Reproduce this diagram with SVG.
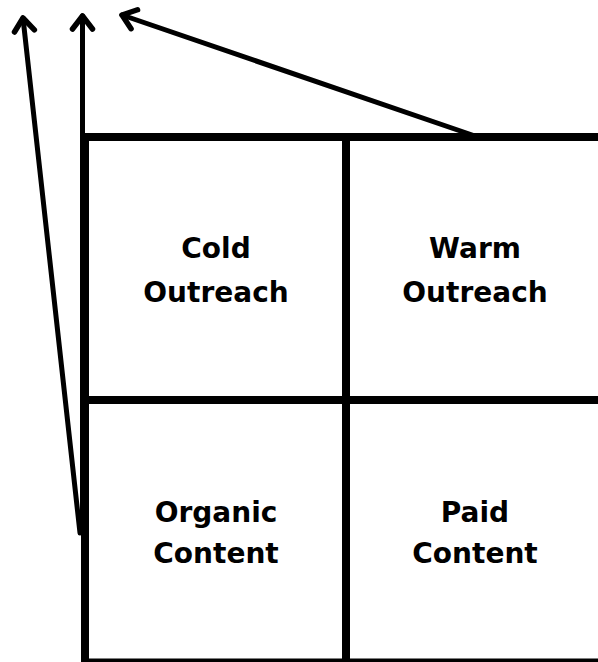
<svg xmlns="http://www.w3.org/2000/svg" width="598" height="662" viewBox="0 0 598 662">
<style>
.grid{stroke:#000;stroke-width:8;fill:none}
.arr{stroke:#000;stroke-width:5;fill:none;stroke-linecap:round}
.lbl{font-family:"DejaVu Sans",sans-serif;font-weight:bold;font-size:28px;fill:#000;text-anchor:middle}
</style>
<defs>
<marker id="ah" markerUnits="userSpaceOnUse" markerWidth="30" markerHeight="30" refX="0" refY="0" viewBox="-15 -15 30 30" orient="auto" overflow="visible">
<path d="M-13,-10 L0,0 L-13,10" fill="none" stroke="#000" stroke-width="5.5" stroke-linecap="round" stroke-linejoin="round"/>
</marker>
</defs>
<rect width="598" height="662" fill="#fff"/>
<g id="connectors">
<line class="arr" x1="80" y1="533" x2="23" y2="18" marker-end="url(#ah)"/>
<line class="arr" x1="82.5" y1="533" x2="82.5" y2="16" marker-end="url(#ah)"/>
<line class="arr" x1="478" y1="137" x2="122" y2="15" marker-end="url(#ah)"/>
</g>
<g id="grid">
<line class="grid" x1="82" y1="137" x2="598" y2="137"/>
<line class="grid" x1="85" y1="133" x2="85" y2="662"/>
<line class="grid" x1="346" y1="133" x2="346" y2="662"/>
<line class="grid" x1="85" y1="400" x2="598" y2="400"/>
<line class="grid" x1="85" y1="661" x2="598" y2="661" style="stroke-width:5"/>
</g>
<g id="cold-outreach">
<text class="lbl" x="216" y="258">Cold</text>
<text class="lbl" x="216" y="302">Outreach</text>
</g>
<g id="warm-outreach">
<text class="lbl" x="475" y="258">Warm</text>
<text class="lbl" x="475" y="302">Outreach</text>
</g>
<g id="organic-content">
<text class="lbl" x="216" y="522">Organic</text>
<text class="lbl" x="216" y="563">Content</text>
</g>
<g id="paid-content">
<text class="lbl" x="475" y="522">Paid</text>
<text class="lbl" x="475" y="563">Content</text>
</g>
</svg>
